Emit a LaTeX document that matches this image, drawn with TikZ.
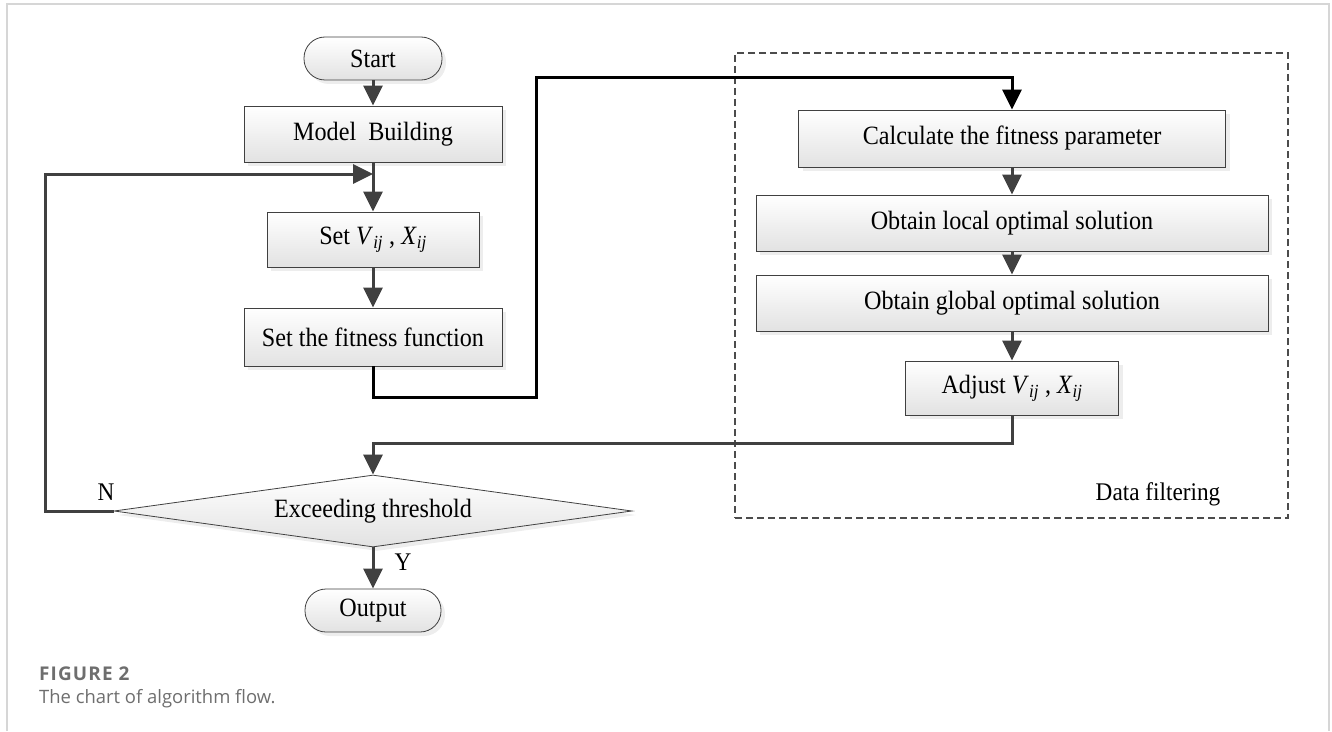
\documentclass[tikz,border=0pt]{standalone}
\usepackage{fontspec}
\setmainfont[FakeStretch=0.915]{Liberation Serif}
\newfontfamily\capfont{Open Sans}
\newfontfamily\capfontls[LetterSpace=6]{Open Sans}
\usetikzlibrary{shapes.geometric,shadows,arrows.meta}
\pgfdeclarelayer{bg}
\pgfsetlayers{bg,main}
\definecolor{linec}{HTML}{404040}
\definecolor{boxbot}{HTML}{E2E2E2}
\definecolor{framec}{HTML}{D6D6D6}
\definecolor{capc}{HTML}{6E6E6E}
\tikzset{
  every node/.style={font=\fontsize{26.5}{30}\selectfont},
  boxsty/.style={draw=linec, line width=0.8bp, top color=white, bottom color=boxbot,
    drop shadow={shadow xshift=4bp, shadow yshift=-4bp, fill=black!14},
    inner sep=0pt, anchor=center},
  procbox/.style={boxsty, rectangle},
  termbox/.style={boxsty, rectangle, rounded corners=21bp},
  decbox/.style={boxsty, diamond, aspect=7.2},
  conn/.style={draw=linec, line width=3bp, -{Triangle[length=20bp,width=19bp]}},
  connblack/.style={conn, draw=black},
  connsh/.style={draw=black!9, line width=3bp, -{Triangle[length=20bp,width=19bp]}, shift={(3,3)}},
  lbl/.style={font=\fontsize{25.5}{30}\selectfont, anchor=base, inner sep=0pt},
}
\begin{document}
\begin{tikzpicture}[x=1bp,y=-1bp]
\useasboundingbox (0,0) rectangle (1332,731);
% outer frame
\draw[framec, line width=2bp] (7,731) -- (7,4) -- (1329,4) -- (1329,731);

% data filtering group
\node[draw=black!70, dashed, dash pattern=on 7bp off 4bp, line width=1.1bp,
      minimum width=553bp, minimum height=465bp, inner sep=0pt] (grp) at (1011.5,285.5) {};
\node[lbl] (dflab) at (1158,500) {Data filtering};

% left column
\node[termbox, minimum width=138bp, minimum height=43bp] (start) at (373,58.5) {Start};
\node[procbox, minimum width=258bp, minimum height=56bp] (model) at (373,134) {Model\ \ Building};
\node[procbox, minimum width=212bp, minimum height=55bp] (setv) at (373,239.5)
  {Set \textit{V}\textsubscript{\textit{ij}} , \textit{X}\textsubscript{\textit{ij}}};
\node[procbox, minimum width=258bp, minimum height=58bp] (setf) at (373,337) {Set the fitness function};
\node[decbox, minimum width=518bp, minimum height=72bp] (dia) at (373,511) {Exceeding threshold};
\node[termbox, minimum width=136bp, minimum height=43bp] (out) at (373,610.5) {Output};

% right column
\node[procbox, minimum width=427bp, minimum height=57bp] (calc) at (1012,138.5) {Calculate the fitness parameter};
\node[procbox, minimum width=512bp, minimum height=56bp] (loc) at (1012,223) {Obtain local optimal solution};
\node[procbox, minimum width=512bp, minimum height=56bp] (glob) at (1012,303) {Obtain global optimal solution};
\node[procbox, minimum width=213bp, minimum height=54bp] (adj) at (1012,388)
  {Adjust \textit{V}\textsubscript{\textit{ij}} , \textit{X}\textsubscript{\textit{ij}}};

% helper coordinates
\coordinate (p1) at (536,397);
\coordinate (p2) at (536,78);
\coordinate (p3) at (1012,443);
\coordinate (p4) at (45,174);
\coordinate (p5) at (373,174);

% faint connector shadows
\begin{pgfonlayer}{bg}
\draw[connsh] (adj.south) -- (p3) -| (dia.north);
\draw[connsh] (dia.west) -| (p4) -- (p5);
\draw[connsh] (setf.south) |- (p1) -- (p2) -| (calc.north);
\end{pgfonlayer}

% connectors
\draw[conn] (start.south) -- (model.north);
\draw[conn] (model.south) -- (setv.north);
\draw[conn] (setv.south) -- (setf.north);
\draw[connblack] (setf.south) |- (p1) -- (p2) -| (calc.north);
\draw[conn] (calc.south) -- (loc.north);
\draw[conn] (loc.south) -- (glob.north);
\draw[conn] (glob.south) -- (adj.north);
\draw[conn] (adj.south) -- (p3) -| (dia.north);
\draw[conn] (dia.west) -| (p4) -- (p5);
\draw[conn] (dia.south) -- (out.north);

% branch labels
\node[lbl] (nlab) at (106,500) {N};
\node[lbl] (ylab) at (403,570) {Y};

% caption
\node[anchor=base west, inner sep=0pt, text=capc, font=\capfontls\bfseries\fontsize{19}{22}\selectfont] (fig) at (39,680) {FIGURE 2};
\node[anchor=base west, inner sep=0pt, text=capc, font=\capfont\fontsize{18.5}{22}\selectfont] (cap) at (39,703) {The chart of algorithm flow.};
\end{tikzpicture}
\end{document}
